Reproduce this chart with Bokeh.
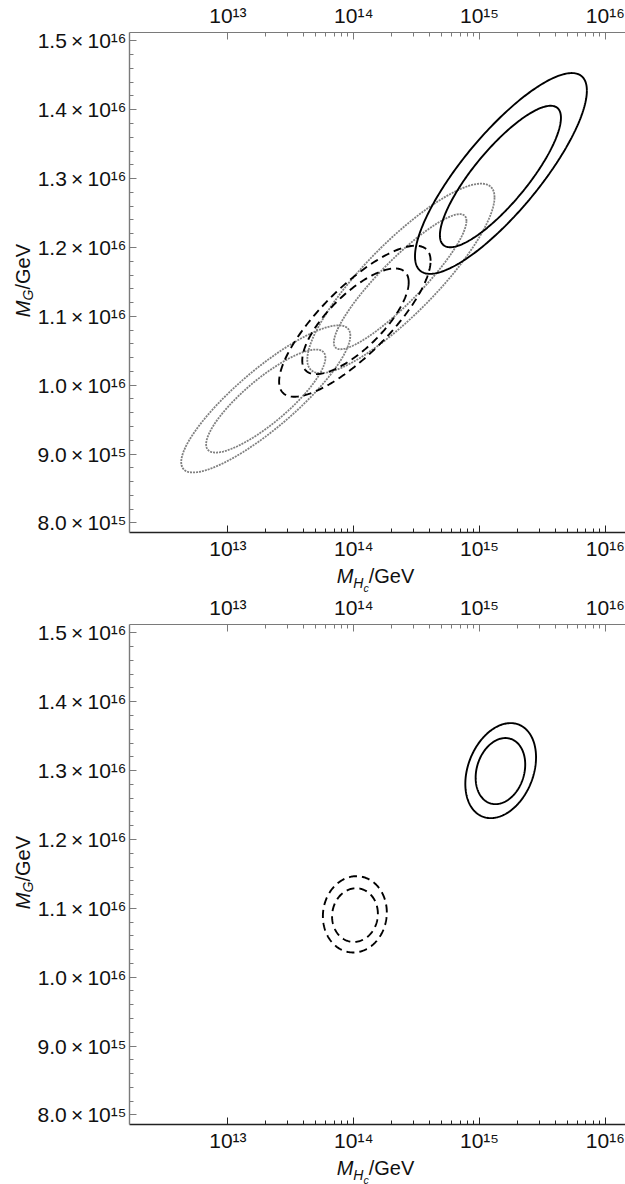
import numpy as np
from bokeh.plotting import figure
from bokeh.models import Range1d, LogAxis, FixedTicker, CustomJSTickFormatter, Div
from bokeh.layouts import column, row
from bokeh.embed import file_html
from bokeh.resources import INLINE

# ---------------- tick values and labels ----------------
x_ticks = [1e13, 1e14, 1e15, 1e16]
x_tick_labels = ["10¹³", "10¹⁴", "10¹⁵", "10¹⁶"]
x_minor_decades = [13, 14, 15]
x_minor_mantissas = [2, 3, 4, 5, 6, 7, 8, 9]

y_ticks = [8.0e15, 9.0e15, 1.0e16, 1.1e16, 1.2e16, 1.3e16, 1.4e16, 1.5e16]
y_tick_labels = ["8.0\u2009×\u200910¹⁵", "9.0\u2009×\u200910¹⁵", "1.0\u2009×\u200910¹⁶",
                 "1.1\u2009×\u200910¹⁶", "1.2\u2009×\u200910¹⁶", "1.3\u2009×\u200910¹⁶",
                 "1.4\u2009×\u200910¹⁶", "1.5\u2009×\u200910¹⁶"]
y_minor_step = 2e14

x_title_html = ("<i>M</i><sub style='font-size:70%;line-height:0'><i>H</i>"
                "<sub style='font-size:75%;line-height:0'><i>c</i></sub></sub>/GeV")
y_title_html = "<i>M</i><sub style='font-size:70%;line-height:0'><i>G</i></sub>/GeV"

# ---------------- contour (ellipse) parameters ----------------
# centre log10(M_Hc/GeV), centre M_G (1e15 GeV), half-width (decades),
# half-height (1e15 GeV), correlation of the two coordinates
top_solid_cx = [15.170, 15.166]
top_solid_cy = [13.075, 13.031]
top_solid_ax = [0.683, 0.481]
top_solid_ay = [1.458, 1.027]
top_solid_rho = [0.825, 0.83]

top_dashed_cx = [14.009, 14.014]
top_dashed_cy = [10.929, 10.928]
top_dashed_ax = [0.602, 0.423]
top_dashed_ay = [1.097, 0.767]
top_dashed_rho = [0.80, 0.74]

top_dotted_cx = [13.301, 13.301, 14.375, 14.369]
top_dotted_cy = [9.801, 9.770, 11.551, 11.503]
top_dotted_ax = [0.672, 0.474, 0.744, 0.527]
top_dotted_ay = [1.068, 0.748, 1.376, 0.981]
top_dotted_rho = [0.86, 0.84, 0.856, 0.90]

bot_solid_cx = [15.168, 15.166]
bot_solid_cy = [13.000, 12.993]
bot_solid_ax = [0.281, 0.197]
bot_solid_ay = [0.690, 0.480]
bot_solid_rho = [0.28, 0.20]

bot_dashed_cx = [14.009, 14.010]
bot_dashed_cy = [10.913, 10.902]
bot_dashed_ax = [0.254, 0.182]
bot_dashed_ay = [0.554, 0.390]
bot_dashed_rho = [0.05, 0.05]

X_RANGE = (10 ** 12.218, 10 ** 16.160)
Y_RANGE = (7.861e15, 1.5122e16)

FONT = "Liberation Sans"
TICK_SIZE = "21px"


def ellipse(cx, cy, ax, ay, rho, n=240):
    t = np.linspace(0, 2 * np.pi, n)
    s = np.sqrt(1 - rho ** 2)
    xs = 10 ** (cx + ax * np.cos(t))
    ys = (cy + ay * (rho * np.cos(t) + s * np.sin(t))) * 1e15
    return xs, ys


def draw_set(p, cxs, cys, axs, ays, rhos, **style):
    for cx, cy, ax, ay, r in zip(cxs, cys, axs, ays, rhos):
        xs, ys = ellipse(cx, cy, ax, ay, r)
        p.line(xs, ys, **style)


x_fmt_code = """
let best = 0, bd = Infinity;
for (let i = 0; i < tvals.length; i++) {
  const d = Math.abs(Math.log10(tick) - Math.log10(tvals[i]));
  if (d < bd) { bd = d; best = i; }
}
return tlabels[best];
"""
y_fmt_code = """
let best = 0, bd = Infinity;
for (let i = 0; i < tvals.length; i++) {
  const d = Math.abs(tick - tvals[i]);
  if (d < bd) { bd = d; best = i; }
}
return tlabels[best];
"""


def style_axis(axis, color, width):
    axis.axis_line_color = color
    axis.axis_line_width = width
    axis.major_tick_line_color = color
    axis.minor_tick_line_color = color
    axis.major_tick_in = 7
    axis.major_tick_out = 0
    axis.minor_tick_in = 4
    axis.minor_tick_out = 0
    axis.major_label_text_font = FONT
    axis.major_label_text_font_size = TICK_SIZE
    axis.major_label_text_color = "#111111"


PANEL_H = 592
XTITLE_H = 30
YTITLE_W = 34
FIG_H = PANEL_H - XTITLE_H
FIG_W = 625 - YTITLE_W


def make_figure():
    p = figure(width=FIG_W, height=FIG_H, x_axis_type="log",
               x_range=Range1d(*X_RANGE), y_range=Range1d(*Y_RANGE),
               output_backend="svg", toolbar_location=None,
               min_border_left=126 - YTITLE_W, min_border_right=0,
               min_border_top=31, min_border_bottom=FIG_H - 533)
    p.outline_line_color = None
    p.xgrid.visible = False
    p.ygrid.visible = False
    p.background_fill_color = "white"
    p.border_fill_color = "white"

    x_minor = [m * 10.0 ** d for d in x_minor_decades for m in x_minor_mantissas]
    y_minor = [float(v) for v in np.arange(y_ticks[0], y_ticks[-1] + 1e13, y_minor_step)]

    xf = CustomJSTickFormatter(args=dict(tvals=x_ticks, tlabels=x_tick_labels), code=x_fmt_code)
    yf = CustomJSTickFormatter(args=dict(tvals=y_ticks, tlabels=y_tick_labels), code=y_fmt_code)

    p.xaxis.ticker = FixedTicker(ticks=x_ticks, minor_ticks=x_minor)
    p.xaxis.formatter = xf
    p.yaxis.ticker = FixedTicker(ticks=y_ticks, minor_ticks=y_minor)
    p.yaxis.formatter = yf
    style_axis(p.xaxis[0], "#222222", 1.6)
    style_axis(p.yaxis[0], "#7a7a7a", 1.4)
    p.xaxis.major_label_standoff = 4
    p.yaxis.major_label_standoff = 3

    top = LogAxis(ticker=FixedTicker(ticks=x_ticks, minor_ticks=x_minor), formatter=xf)
    style_axis(top, "#7a7a7a", 1.2)
    top.major_label_standoff = 6
    p.add_layout(top, "above")
    return p


def wrap_panel(p):
    ydiv = Div(width=YTITLE_W, height=FIG_H, margin=(0, 0, 0, 0), text=(
        f"<div style=\"width:{YTITLE_W}px;height:{FIG_H}px;display:flex;"
        "align-items:center;justify-content:flex-end;\">"
        "<span style=\"writing-mode:vertical-rl;transform:rotate(180deg);"
        f"font-family:'{FONT}';font-size:20px;color:#111111;line-height:22px;"
        "white-space:nowrap;\">" + y_title_html + "</span></div>"))
    xdiv = Div(width=625, height=XTITLE_H, margin=(0, 0, 0, 0), text=(
        f"<div style=\"width:{625 - 126}px;margin-left:126px;text-align:center;"
        f"font-family:'{FONT}';font-size:20px;color:#111111;line-height:24px;"
        "padding-top:2px;white-space:nowrap;\">" + x_title_html + "</div>"))
    return column(row(ydiv, p, spacing=0), xdiv, spacing=0)


solid = dict(line_color="black", line_width=1.9)
dashed = dict(line_color="black", line_width=1.9, line_dash="8 5")
dotted = dict(line_color="#808080", line_width=1.8, line_dash="2 1")

p1 = make_figure()
draw_set(p1, top_dotted_cx, top_dotted_cy, top_dotted_ax, top_dotted_ay, top_dotted_rho, **dotted)
draw_set(p1, top_dashed_cx, top_dashed_cy, top_dashed_ax, top_dashed_ay, top_dashed_rho, **dashed)
draw_set(p1, top_solid_cx, top_solid_cy, top_solid_ax, top_solid_ay, top_solid_rho, **solid)

p2 = make_figure()
draw_set(p2, bot_dashed_cx, bot_dashed_cy, bot_dashed_ax, bot_dashed_ay, bot_dashed_rho, **dashed)
draw_set(p2, bot_solid_cx, bot_solid_cy, bot_solid_ax, bot_solid_ay, bot_solid_rho, **solid)

layout = column(wrap_panel(p1), wrap_panel(p2), spacing=0)
open("out.html", "w").write(file_html(layout, INLINE))
